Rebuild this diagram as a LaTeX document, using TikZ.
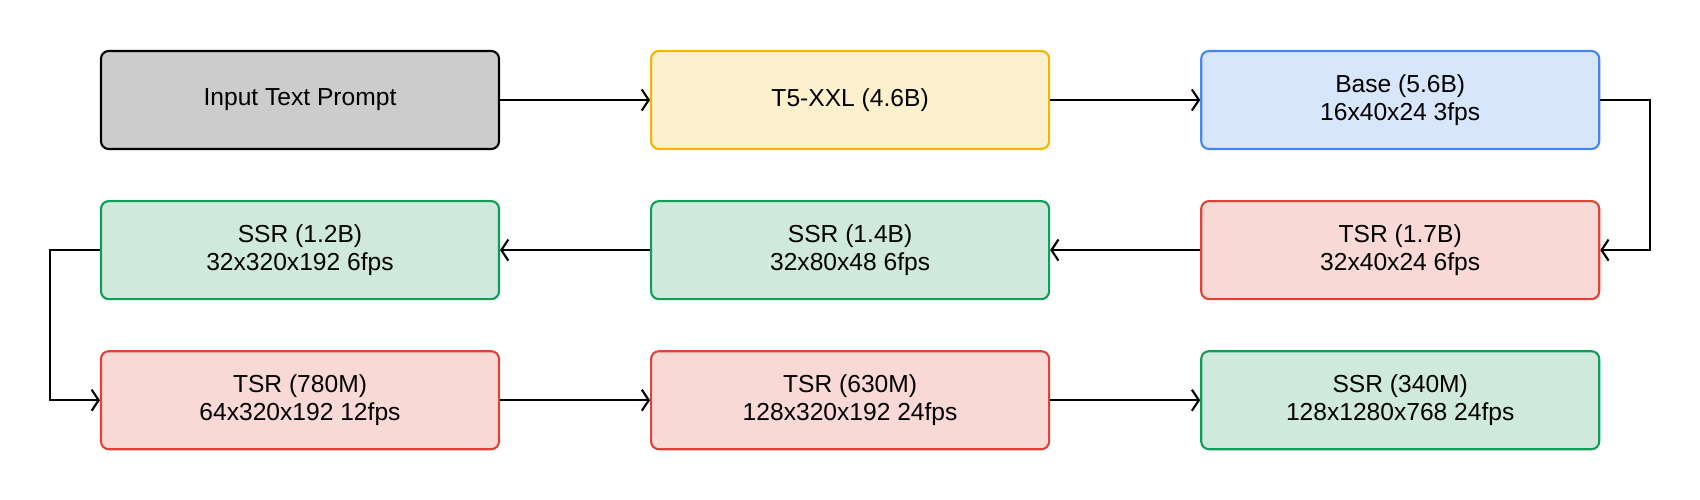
\documentclass[tikz,border=0pt]{standalone}
\usepackage{fontspec}
\setmainfont{Liberation Sans}
\usepackage{xcolor}
\definecolor{grayfill}{RGB}{204,204,204}
\definecolor{yellowfill}{RGB}{253,240,204}
\definecolor{yellowline}{RGB}{244,180,0}
\definecolor{bluefill}{RGB}{216,230,252}
\definecolor{blueline}{RGB}{66,133,244}
\definecolor{redfill}{RGB}{248,217,214}
\definecolor{redline}{RGB}{219,68,55}
\definecolor{greenfill}{RGB}{207,234,220}
\definecolor{greenline}{RGB}{15,157,88}
\usepackage{tikz}
\usetikzlibrary{arrows.meta,positioning}

\begin{document}
\begin{tikzpicture}[
    stage/.style={rectangle, line width=0.6pt, rounded corners=2.2pt,
                 minimum width=3.98cm, minimum height=0.98cm,
                 align=center, font=\fontsize{7}{7.9}\selectfont},
    inp/.style={stage, draw=black, fill=grayfill},
    enc/.style={stage, draw=yellowline, fill=yellowfill},
    base/.style={stage, draw=blueline, fill=bluefill},
    tsr/.style={stage, draw=redline, fill=redfill},
    ssr/.style={stage, draw=greenline, fill=greenfill},
    arr/.style={-{Straight Barb[length=2pt,width=6pt]}, line width=0.6pt},
  ]
    \useasboundingbox (0,0) rectangle (17,-5);

    \node[inp] (prompt) at (3.0,-1.0) {Input Text Prompt};
    \node[enc,  right=1.5cm of prompt] (t5)    {T5-XXL (4.6B)};
    \node[base, right=1.5cm of t5]     (basem) {Base (5.6B)\\16x40x24 3fps};

    \node[tsr, below=0.5cm of basem] (tsra) {TSR (1.7B)\\32x40x24 6fps};
    \node[ssr, left=1.5cm of tsra]   (ssra) {SSR (1.4B)\\32x80x48 6fps};
    \node[ssr, left=1.5cm of ssra]   (ssrb) {SSR (1.2B)\\32x320x192 6fps};

    \node[tsr, below=0.5cm of ssrb] (tsrb) {TSR (780M)\\64x320x192 12fps};
    \node[tsr, right=1.5cm of tsrb] (tsrc) {TSR (630M)\\128x320x192 24fps};
    \node[ssr, right=1.5cm of tsrc] (ssrc) {SSR (340M)\\128x1280x768 24fps};

    \draw[arr] (prompt)--(t5);
    \draw[arr] (t5)--(basem);
    \draw[arr] (basem.east) -- ++(0.5,0) |- (tsra.east);
    \draw[arr] (tsra)--(ssra);
    \draw[arr] (ssra)--(ssrb);
    \draw[arr] (ssrb.west) -- ++(-0.5,0) |- (tsrb.west);
    \draw[arr] (tsrb)--(tsrc);
    \draw[arr] (tsrc)--(ssrc);
  \end{tikzpicture}
\end{document}
